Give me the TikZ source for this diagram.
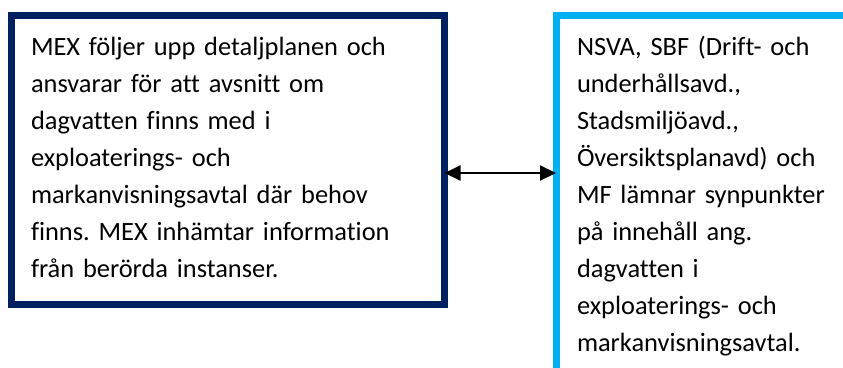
\documentclass[tikz,border=0pt]{standalone}
\usepackage{fontspec}
\setmainfont{Carlito}[Ligatures={NoCommon}]
\usetikzlibrary{arrows.meta}
\definecolor{navyline}{HTML}{002060}
\definecolor{skyline}{HTML}{00B0F0}
\frenchspacing
\tikzset{
  panel/.style={line width=7pt, fill=white, outer sep=0pt, inner sep=0pt, anchor=north west},
  bodytext/.style={anchor=base west, inner sep=0pt, outer sep=0pt, text width=420pt, align=left,
    font=\fontsize{26.4pt}{37.1pt}\selectfont, text=black},
  link/.style={line width=2pt, {Triangle[length=16pt,width=15pt]}-{Triangle[length=16pt,width=15pt]}}
}
\begin{document}
\begin{tikzpicture}[x=1pt,y=-1pt]
  \useasboundingbox (0,0) rectangle (843,367);
  \clip (0,0) rectangle (843,367);
  \fill[white] (0,0) rectangle (843,367);
  % left panel
  \node[panel, draw=navyline, minimum width=433pt, minimum height=289pt] (lbox) at (11.5,15.5) {};
  % right panel, running past the page edge
  \node[panel, draw=skyline, minimum width=400pt, minimum height=420pt] (rbox) at (556,15.5) {};
  \node[bodytext] (ltext) at (31,55) {MEX följer upp detaljplanen och\\
    ansvarar för att avsnitt om\\
    dagvatten finns med i\\
    exploaterings- och\\
    markanvisningsavtal där behov\\
    finns. MEX inhämtar information\\
    från berörda instanser.};
  \node[bodytext] (rtext) at (577,55) {NSVA, SBF (Drift- och\\
    underhållsavd.,\\
    Stadsmiljöavd.,\\
    Översiktsplanavd) och\\
    MF lämnar synpunkter\\
    på innehåll ang.\\
    dagvatten i\\
    exploaterings- och\\
    markanvisningsavtal.};
  \coordinate (ay) at (0,173);
  \draw[link] (lbox.east |- ay) -- (rbox.west |- ay);
\end{tikzpicture}
\end{document}
